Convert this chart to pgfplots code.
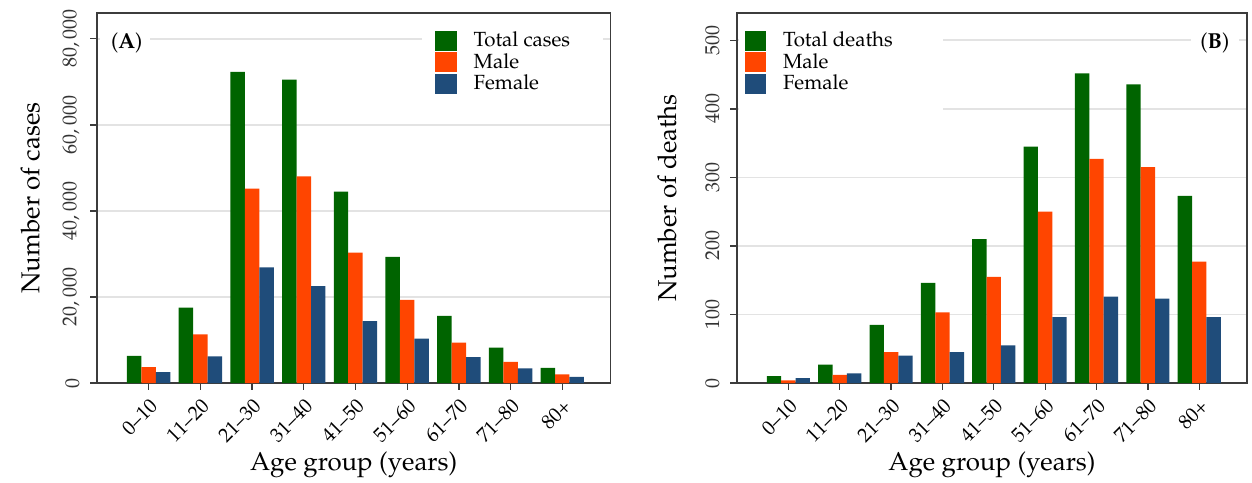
\documentclass[border=0pt]{standalone}
\usepackage[T1]{fontenc}
\usepackage{mathpazo}
\usepackage{pgfplots}
\pgfplotsset{compat=1.18}

\definecolor{cgreen}{RGB}{0,100,0}
\definecolor{corange}{RGB}{255,69,0}
\definecolor{cblue}{RGB}{31,76,122}
\definecolor{axgray}{RGB}{60,60,60}

% age groups at x = 0..8
\pgfplotstableread{
x total male female
0 6300  3700  2500
1 17500 11300 6200
2 72300 45200 26900
3 70500 48000 22500
4 44500 30300 14400
5 29300 19300 10300
6 15600 9400  6000
7 8200  4900  3400
8 3500  2000  1400
}\cases
\pgfplotstableread{
x total male female
0 10  4   7
1 27  12  14
2 85  45  40
3 146 103 45
4 210 155 55
5 345 250 96
6 452 327 126
7 436 315 123
8 273 177 96
}\deaths

\pgfplotsset{
  agebars/.style={
    set layers=standard,
    scale only axis, height=222pt,
    ybar=0pt, bar width=0.28,
    xmin=-1, xmax=8.93, ymin=0,
    xtick={0,...,8},
    xticklabels={0--10,11--20,21--30,31--40,41--50,51--60,61--70,71--80,80+},
    xticklabel style={rotate=45, anchor=north east, font=\fontsize{12}{14}\selectfont},
    yticklabel style={rotate=90, anchor=south, text=black!80, font=\fontsize{12}{14}\selectfont},
    yticklabel shift=3pt,
    tick pos=left, tick align=outside,
    major tick length=4pt,
    tick style={axgray, line width=0.8pt},
    axis line style={axgray, line width=1pt},
    ymajorgrids, grid style={gray!22, line width=1.1pt},
    xlabel={Age group (years)},
    label style={font=\fontsize{15.5}{18}\selectfont},
    xlabel style={at={(axis description cs:0.5,-0.222)}, anchor=center},
    legend cell align=left,
    legend image code/.code={\fill[##1] (0pt,-6pt) rectangle (13pt,6pt);},
    legend style={draw=none, fill=white, font=\fontsize{12.3}{14}\selectfont,
      anchor=north west, row sep=-1.5pt, column sep=8pt, inner sep=2pt},
    every axis plot/.append style={draw=none},
  }
}

\begin{document}
\begin{tikzpicture}
\begin{axis}[agebars, width=308pt, ymax=86000,
    ytick={0,20000,40000,60000,80000},
    scaled y ticks=false,
    yticklabel style={/pgf/number format/1000 sep={,}},
    ylabel={Number of cases},
    ylabel style={at={(axis description cs:-0.13,0.5)}, anchor=center},
    legend style={at={(axis description cs:0.652,0.968)}}]
\begin{pgfonlayer}{pre main}
\fill[white] (axis description cs:0.634,0.754) rectangle (axis description cs:0.986,0.97);
\fill[white] (axis description cs:0.005,0.85) rectangle (axis description cs:0.103,0.97);
\end{pgfonlayer}
\addplot[fill=cgreen] table[x=x,y=total] {\cases};
\addplot[fill=corange] table[x=x,y=male] {\cases};
\addplot[fill=cblue] table[x=x,y=female] {\cases};
\legend{Total cases,Male,Female}
\node[font=\fontsize{13}{15}\selectfont] at (axis description cs:0.058,0.92) {(\textbf{A})};
\end{axis}

\begin{axis}[agebars, width=306pt, at={(384pt,0pt)}, ymax=540,
    ytick={0,100,200,300,400,500},
    ylabel={Number of deaths},
    ylabel style={at={(axis description cs:-0.137,0.5)}, anchor=center},
    legend style={at={(axis description cs:0.008,0.968)}}]
\begin{pgfonlayer}{pre main}
\fill[white] (axis description cs:0.004,0.72) rectangle (axis description cs:0.403,0.97);
\fill[white] (axis description cs:0.89,0.85) rectangle (axis description cs:0.985,0.97);
\end{pgfonlayer}
\addplot[fill=cgreen] table[x=x,y=total] {\deaths};
\addplot[fill=corange] table[x=x,y=male] {\deaths};
\addplot[fill=cblue] table[x=x,y=female] {\deaths};
\legend{Total deaths,Male,Female}
\node[font=\fontsize{13}{15}\selectfont] at (axis description cs:0.937,0.92) {(\textbf{B})};
\end{axis}
\pgfresetboundingbox
\path (-58.2pt,-59.4pt) rectangle (693pt,229.8pt);
\end{tikzpicture}
\end{document}
